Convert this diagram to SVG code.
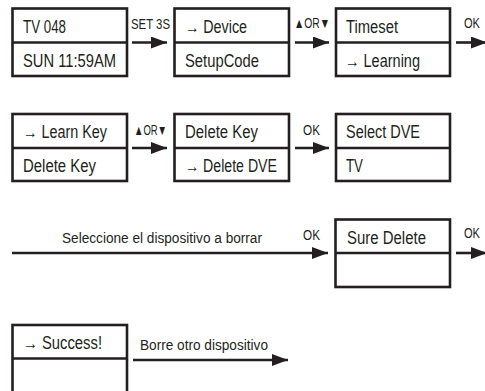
<svg xmlns="http://www.w3.org/2000/svg" width="485" height="391" viewBox="0 0 485 391">
<defs>
<style>
.box{fill:#fff;stroke:#231f20;stroke-width:2.6}
.div{stroke:#231f20;stroke-width:2.6}
.t{font-family:"Liberation Sans",Arial,sans-serif;font-size:17.5px;fill:#231f20}
.l{font-family:"Liberation Sans",Arial,sans-serif;font-size:14px;fill:#231f20}
.c{stroke:#231f20;stroke-width:2.6;fill:none;marker-end:url(#ah)}
</style>
<marker id="ah" markerUnits="userSpaceOnUse" markerWidth="16" markerHeight="12" refX="16" refY="6" orient="auto">
<path d="M0,0 L16,6 L0,12 z" fill="#231f20"/>
</marker>
</defs>
<rect width="485" height="391" fill="#fff"/>

<g id="connectors">
<line class="c" x1="132" y1="42.5" x2="167" y2="42.5"/>
<line class="c" x1="295" y1="42.5" x2="329" y2="42.5"/>
<line class="c" x1="456" y1="42.5" x2="487" y2="42.5"/>
<line class="c" x1="132" y1="148" x2="167" y2="148"/>
<line class="c" x1="295" y1="148" x2="329" y2="148"/>
<line class="c" x1="12" y1="253" x2="328" y2="253"/>
<line class="c" x1="456" y1="253" x2="487" y2="253"/>
<line class="c" x1="133" y1="360" x2="288" y2="360"/>
<text class="l" x="131" y="28.5" textLength="39" lengthAdjust="spacingAndGlyphs">SET 3S</text>
<text class="l" x="294" y="27.5" textLength="36" lengthAdjust="spacingAndGlyphs">▲OR▼</text>
<text class="l" x="464" y="27.5" textLength="16" lengthAdjust="spacingAndGlyphs">OK</text>
<text class="l" x="134" y="134.5" textLength="33" lengthAdjust="spacingAndGlyphs">▲OR▼</text>
<text class="l" x="303" y="134.5" textLength="17" lengthAdjust="spacingAndGlyphs">OK</text>
<text class="l" x="62" y="243" textLength="200" lengthAdjust="spacingAndGlyphs">Seleccione el dispositivo a borrar</text>
<text class="l" x="303" y="240" textLength="17" lengthAdjust="spacingAndGlyphs">OK</text>
<text class="l" x="464" y="238" textLength="16" lengthAdjust="spacingAndGlyphs">OK</text>
<text class="l" x="140" y="350" textLength="128" lengthAdjust="spacingAndGlyphs">Borre otro dispositivo</text>
</g>

<g id="n1">
<rect class="box" x="12.5" y="8.5" width="114.5" height="67.5"/>
<line class="div" x1="12.5" y1="42.5" x2="127" y2="42.5"/>
<text class="t" x="23" y="32.5" textLength="43" lengthAdjust="spacingAndGlyphs">TV 048</text>
<text class="t" x="23" y="67" textLength="93" lengthAdjust="spacingAndGlyphs">SUN 11:59AM</text>
</g>
<g id="n2">
<rect class="box" x="174.5" y="8.5" width="114.5" height="67.5"/>
<line class="div" x1="174.5" y1="42.5" x2="289" y2="42.5"/>
<text class="t" x="185" y="32.5" textLength="62" lengthAdjust="spacingAndGlyphs">→ Device</text>
<text class="t" x="185" y="67" textLength="74" lengthAdjust="spacingAndGlyphs">SetupCode</text>
</g>
<g id="n3">
<rect class="box" x="336" y="8.5" width="114" height="67.5"/>
<line class="div" x1="336" y1="42.5" x2="450" y2="42.5"/>
<text class="t" x="346" y="32.5" textLength="52" lengthAdjust="spacingAndGlyphs">Timeset</text>
<text class="t" x="345" y="67" textLength="75" lengthAdjust="spacingAndGlyphs">→ Learning</text>
</g>

<g id="n4">
<rect class="box" x="12.5" y="114" width="114.5" height="67"/>
<line class="div" x1="12.5" y1="148" x2="127" y2="148"/>
<text class="t" x="23" y="138" textLength="84" lengthAdjust="spacingAndGlyphs">→ Learn Key</text>
<text class="t" x="23" y="171.5" textLength="73" lengthAdjust="spacingAndGlyphs">Delete Key</text>
</g>
<g id="n5">
<rect class="box" x="174.5" y="114" width="114.5" height="67"/>
<line class="div" x1="174.5" y1="148" x2="289" y2="148"/>
<text class="t" x="185" y="138" textLength="73" lengthAdjust="spacingAndGlyphs">Delete Key</text>
<text class="t" x="185" y="171.5" textLength="92" lengthAdjust="spacingAndGlyphs">→ Delete DVE</text>
</g>
<g id="n6">
<rect class="box" x="336" y="114" width="114" height="67"/>
<line class="div" x1="336" y1="148" x2="450" y2="148"/>
<text class="t" x="346" y="138" textLength="74" lengthAdjust="spacingAndGlyphs">Select DVE</text>
<text class="t" x="346" y="171.5" textLength="17" lengthAdjust="spacingAndGlyphs">TV</text>
</g>

<g id="n7">
<rect class="box" x="335.5" y="219.5" width="114.5" height="67.5"/>
<line class="div" x1="335.5" y1="253" x2="450" y2="253"/>
<text class="t" x="347" y="243.5" textLength="79" lengthAdjust="spacingAndGlyphs">Sure Delete</text>
</g>

<g id="n8">
<rect class="box" x="12.5" y="325" width="114.5" height="80"/>
<line class="div" x1="12.5" y1="358.5" x2="127" y2="358.5"/>
<text class="t" x="23" y="348.5" textLength="79" lengthAdjust="spacingAndGlyphs">→ Success!</text>
</g>
</svg>
